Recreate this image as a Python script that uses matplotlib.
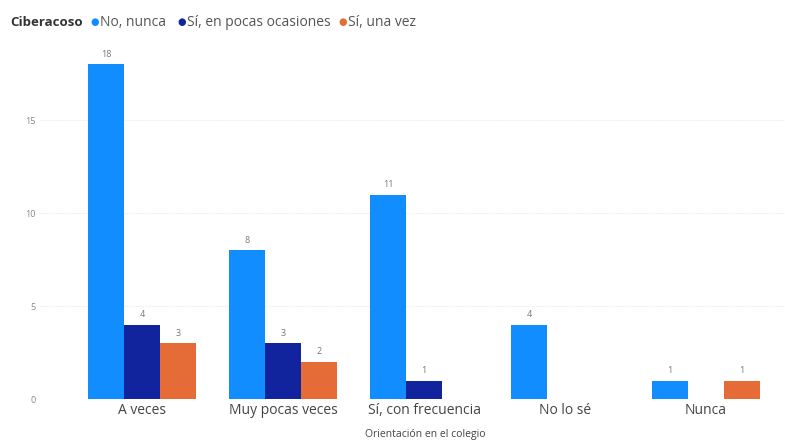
import matplotlib
matplotlib.use("Agg")
import matplotlib.pyplot as plt
import numpy as np

plt.rcParams['font.family'] = ['Open Sans', 'DejaVu Sans']

categorias = ["A veces", "Muy pocas veces", "Sí, con frecuencia", "No lo sé", "Nunca"]
series = ["No, nunca", "Sí, en pocas ocasiones", "Sí, una vez"]
no_nunca = [18, 8, 11, 4, 1]
si_pocas = [4, 3, 1, np.nan, np.nan]
si_una_vez = [3, 2, np.nan, np.nan, 1]
colores = ["#118DFF", "#12239E", "#E66C37"]

fig = plt.figure(figsize=(7.85, 4.45), dpi=100)
ax = fig.add_axes([0.051, 0.103, 0.949, 0.794])

x = np.arange(len(categorias))
w = 0.255
for i, (vals, col) in enumerate(zip([no_nunca, si_pocas, si_una_vez], colores)):
    pos = x + (i - 1) * w
    ax.bar(pos, vals, width=w, color=col, zorder=3)
    for p, v in zip(pos, vals):
        if not np.isnan(v):
            ax.text(p, v + 0.3, f"{int(v)}", ha="center", va="bottom",
                    fontsize=6.5, color="#777777")

ax.set_xlim(-0.723, 4.560)
ax.set_ylim(0, 19)
ax.set_yticks([0, 5, 10, 15])
ax.set_xticks(x)
ax.set_xticklabels(categorias, fontsize=10, color="#444444")
ax.tick_params(axis="y", labelsize=6.5, colors="#888888", length=0, pad=3)
ax.tick_params(axis="x", length=0, pad=3)
ax.grid(axis="y", color="#ececec", linestyle=(0, (1, 1)), linewidth=0.8, zorder=0)
for s in ax.spines.values():
    s.set_visible(False)
ax.set_xlabel("Orientación en el colegio", fontsize=7.5, color="#444444")
ax.xaxis.set_label_coords(0.517, -0.085)

# leyenda arriba
ley_y = 0.950
fig.text(0.0127, ley_y, "Ciberacoso", fontsize=9.5, fontweight="bold", color="#333333", va="center")
dot_x = [0.121, 0.232, 0.437]
for dx, nombre, col in zip(dot_x, series, colores):
    fig.text(dx, ley_y, "●", fontsize=7, color=col, va="center", ha="center")
    fig.text(dx + 0.006, ley_y, nombre, fontsize=10, color="#555555", va="center")

fig.savefig("out.png", dpi=100)
